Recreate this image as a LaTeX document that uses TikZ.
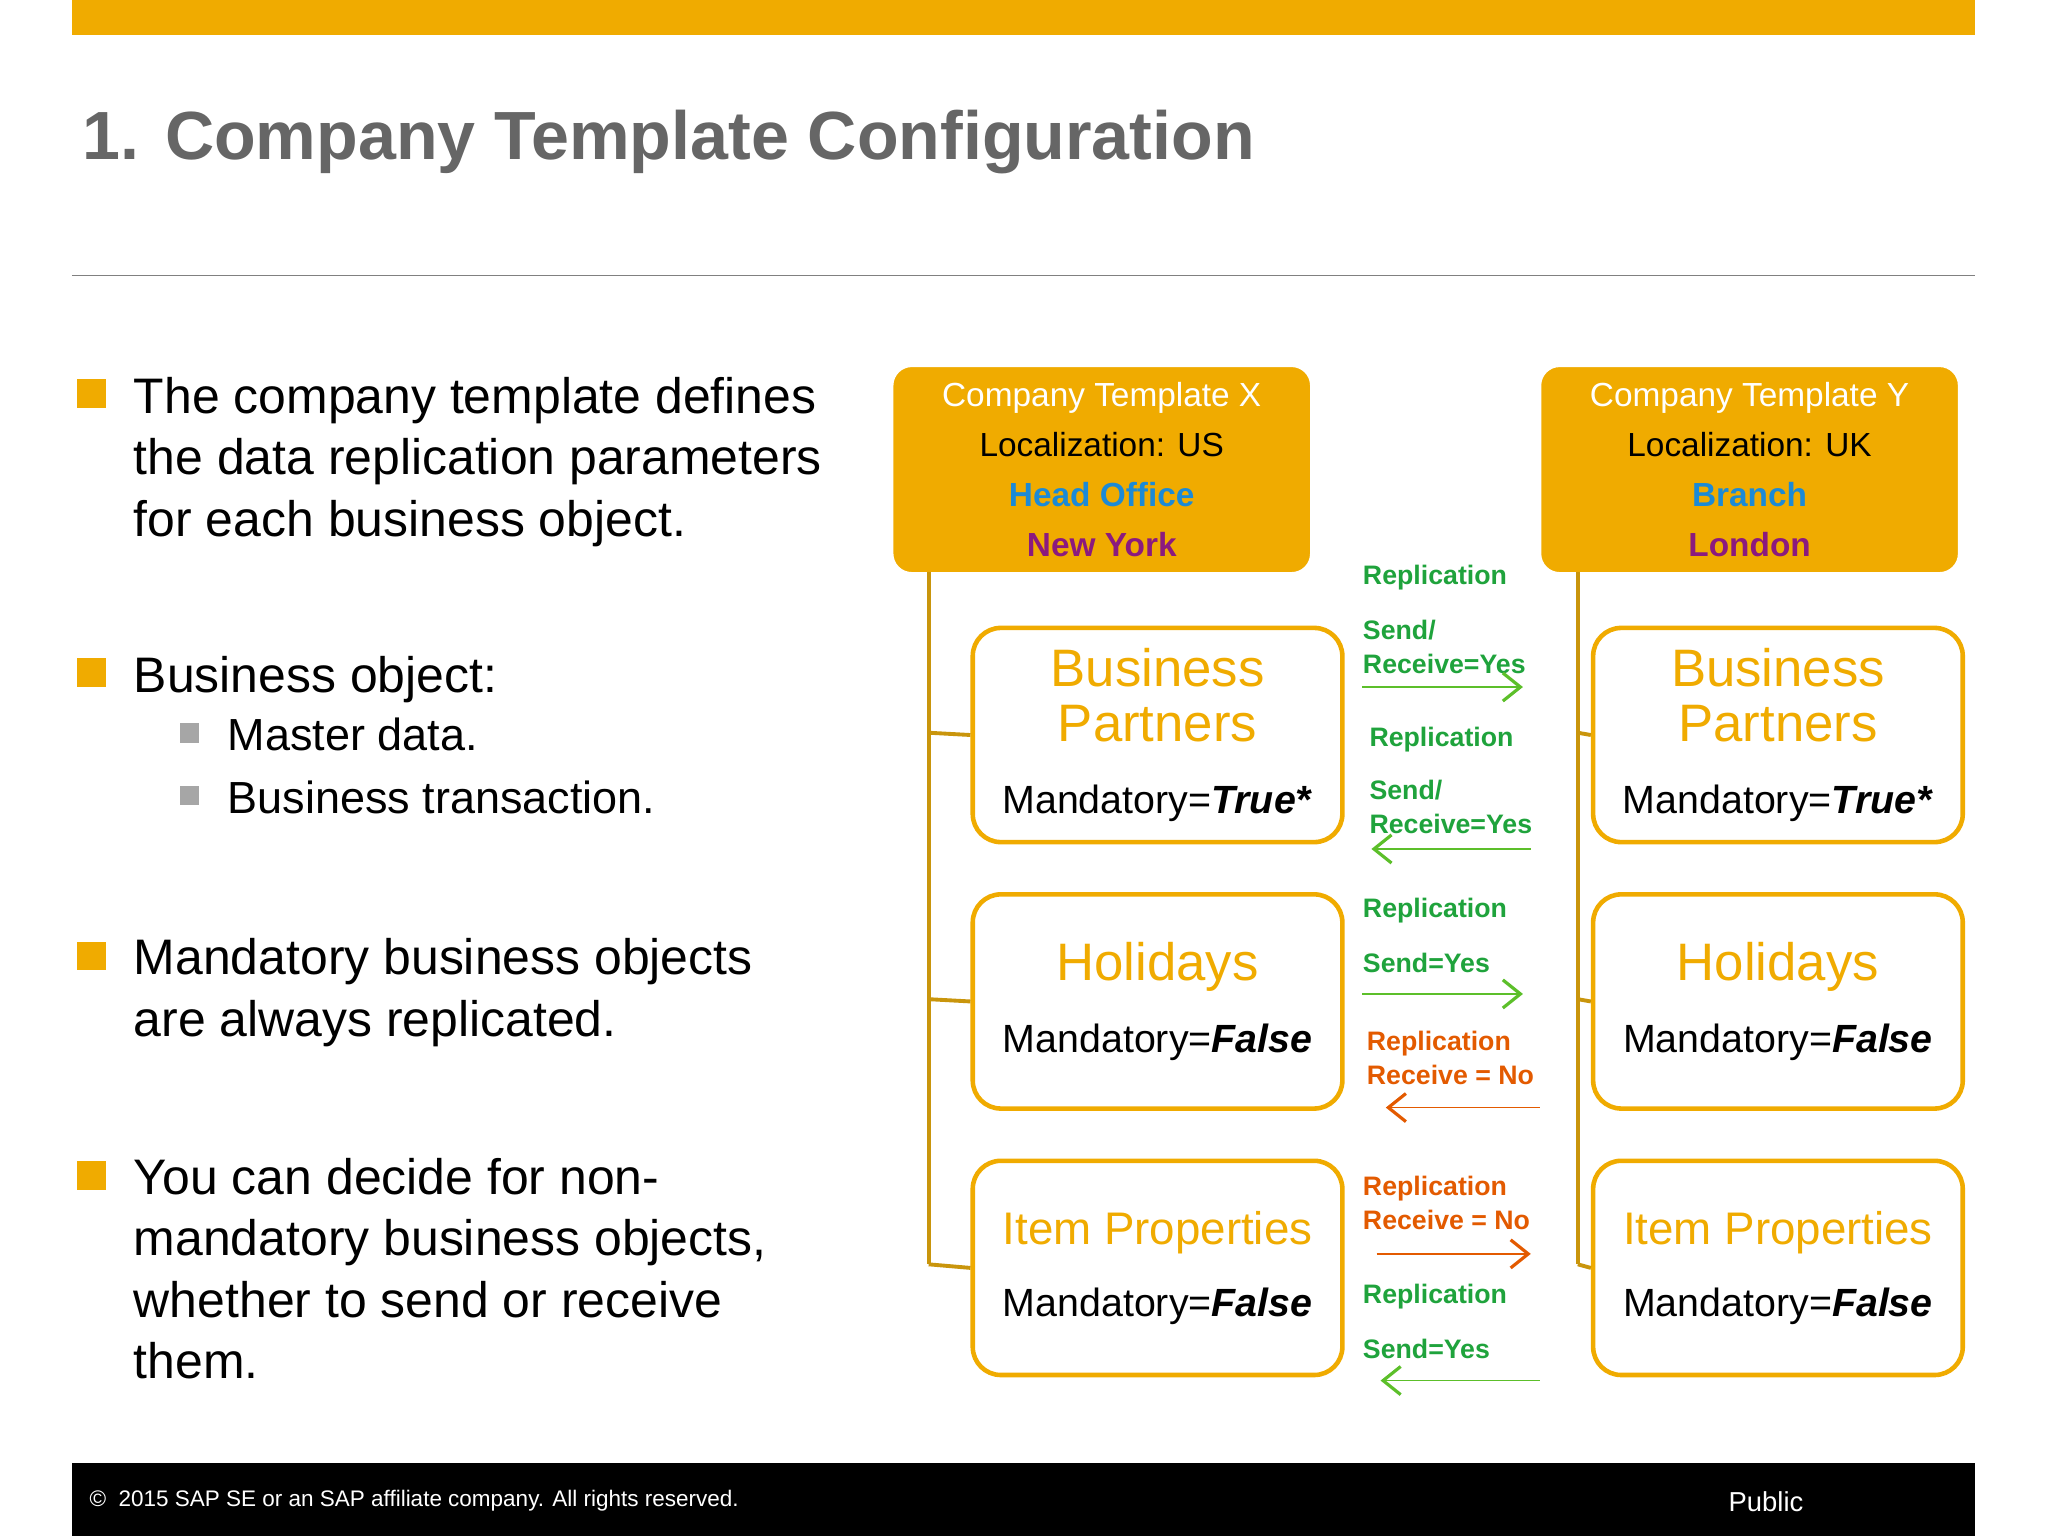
\documentclass[tikz,border=0pt]{standalone}
\usepackage{fontspec}
\setmainfont{Liberation Sans}
\usetikzlibrary{arrows.meta}
\definecolor{sapgold}{HTML}{F0AB00}
\definecolor{linegold}{HTML}{C9950C}
\definecolor{tgray}{HTML}{666666}
\definecolor{hblue}{HTML}{1C8AD6}
\definecolor{hpurple}{HTML}{8B1A7E}
\definecolor{tgreen}{HTML}{1FA33C}
\definecolor{agreen}{HTML}{5CBF2A}
\definecolor{torange}{HTML}{E35A00}
\newcommand{\myBP}{\textcolor{sapgold}{Business}\\\textcolor{sapgold}{Partners}\\[5pt]{\fontsize{11.2}{14}\selectfont Mandatory=\textbf{\textit{True*}}}}
\newcommand{\myHOL}{\textcolor{sapgold}{Holidays}\\[5pt]{\fontsize{11.2}{14}\selectfont Mandatory=\textbf{\textit{False}}}}
\newcommand{\myIP}{{\fontsize{13}{17}\selectfont\textcolor{sapgold}{Item Properties}}\\[5pt]{\fontsize{11.2}{14}\selectfont Mandatory=\textbf{\textit{False}}}}
\begin{document}
\begin{tikzpicture}[x=0.013061cm,y=-0.013061cm,
  hdr/.style={draw=white,line width=1.5pt,fill=sapgold,rounded corners=6pt,minimum width=323*0.013061cm,minimum height=161*0.013061cm,anchor=north west,inner sep=0pt,align=center,font=\fontsize{9.5}{14.2}\selectfont},
  obj/.style={draw=sapgold,line width=1.3pt,fill=white,rounded corners=8pt,minimum width=283*0.013061cm,minimum height=164*0.013061cm,anchor=north west,inner sep=0pt,align=center,font=\fontsize{15}{15.5}\selectfont},
  bul/.style={fill=sapgold,minimum size=22*0.013061cm,inner sep=0pt},
  sbul/.style={fill=gray!70,minimum size=15*0.013061cm,inner sep=0pt},
  btxt/.style={anchor=north west,align=left,font=\fontsize{14.2}{17.5}\selectfont,inner sep=0pt},
  lab/.style={anchor=west,inner sep=0pt,font=\bfseries\fontsize{7.6}{9.7}\selectfont,align=left},
  trunk/.style={draw=linegold,line width=1.1pt},
  arr/.style={line width=0.5pt,-{Straight Barb[length=5pt,width=8pt,line width=0.9pt]}}
]
\useasboundingbox (0,0) rectangle (1568,1176);
\fill[white] (0,0) rectangle (1568,1176);
\fill[sapgold] (55,0) rectangle (1512,27);
\node[anchor=west,inner sep=0pt,text=tgray,font=\bfseries\fontsize{19.4}{22}\selectfont] (title) at (63,109) {1. Company Template Configuration};
\draw[gray,line width=0.5pt] (55,211) -- (1512,211);
\fill[black] (55,1120) rectangle (1512,1176);
\node[anchor=west,text=white,inner sep=0pt,font=\fontsize{6.4}{7}\selectfont] (copy) at (68,1149) {©\ \ 2015 SAP SE or an SAP affiliate company. All rights reserved.};
\node[anchor=west,text=white,inner sep=0pt,font=\fontsize{7.8}{9}\selectfont] (pub) at (1323,1150) {Public};

% bullets
\node[bul] (b1) at (70,301) {};
\node[btxt] (t1) at (102,288) {The company template defines\\the data replication parameters\\for each business object.};
\node[bul] (b2) at (70,515) {};
\node[btxt] (t2) at (102,502) {Business object:};
\node[sbul] (s1) at (145,561) {};
\node[btxt,font=\fontsize{12.8}{16}\selectfont] (t3) at (174,549) {Master data.};
\node[sbul] (s2) at (145,609) {};
\node[btxt,font=\fontsize{12.8}{16}\selectfont] (t4) at (174,597) {Business transaction.};
\node[bul] (b3) at (70,732) {};
\node[btxt] (t5) at (102,718) {Mandatory business objects\\are always replicated.};
\node[bul] (b4) at (70,900) {};
\node[btxt] (t6) at (102,886) {You can decide for non-\\mandatory business objects,\\whether to send or receive\\them.};

% headers
\node[hdr] (hx) at (680,277) {\textcolor{white}{Company Template X}\\Localization: US\\\textcolor{hblue}{\bfseries Head Office}\\\textcolor{hpurple}{\bfseries New York}};
\node[hdr] (hy) at (1176,277) {\textcolor{white}{Company Template Y}\\Localization: UK\\\textcolor{hblue}{\bfseries Branch}\\\textcolor{hpurple}{\bfseries London}};

% trunks
\coordinate (tx0) at (711,438); \coordinate (tx1) at (711,968);
\coordinate (ty0) at (1208,438); \coordinate (ty1) at (1208,968);
\draw[trunk] (tx0) -- (tx1);
\draw[trunk] (ty0) -- (ty1);

\node[obj] (x1) at (743,479) {\myBP};
\node[obj] (x2) at (743,683) {\myHOL};
\node[obj] (x3) at (743,887) {\myIP};
\node[obj] (y1) at (1218,479) {\myBP};
\node[obj] (y2) at (1218,683) {\myHOL};
\node[obj] (y3) at (1218,887) {\myIP};
\foreach \n/\yy in {x1/561,x2/765,x3/968}{\draw[trunk] (711,\yy) -- (\n.west);}
\foreach \n/\yy in {y1/561,y2/765,y3/968}{\draw[trunk] (1208,\yy) -- (\n.west);}

% labels
\node[lab,text=tgreen] (l1) at (1043,442) {Replication};
\node[lab,text=tgreen] (l2) at (1043,495) {Send/\\Receive=Yes};
\coordinate (a1s) at (1043,526); \coordinate (a1e) at (1166,526);
\draw[arr,agreen] (a1s) -- (a1e);
\node[lab,text=tgreen] (l3) at (1048,566) {Replication};
\node[lab,text=tgreen] (l4) at (1048,618) {Send/\\Receive=Yes};
\coordinate (a2s) at (1172,650); \coordinate (a2e) at (1050,650);
\draw[arr,agreen] (a2s) -- (a2e);
\node[lab,text=tgreen] (l5) at (1043,697) {Replication};
\node[lab,text=tgreen] (l6) at (1043,737) {Send=Yes};
\coordinate (a3s) at (1043,761); \coordinate (a3e) at (1166,761);
\draw[arr,agreen] (a3s) -- (a3e);
\node[lab,text=torange] (l7) at (1046,810) {Replication\\Receive = No};
\coordinate (a4s) at (1179,848); \coordinate (a4e) at (1061,848);
\draw[arr,torange] (a4s) -- (a4e);
\node[lab,text=torange] (l8) at (1043,921) {Replication\\Receive = No};
\coordinate (a5s) at (1054,960); \coordinate (a5e) at (1172,960);
\draw[arr,torange] (a5s) -- (a5e);
\node[lab,text=tgreen] (l9) at (1043,993) {Replication};
\node[lab,text=tgreen] (l10) at (1043,1033) {Send=Yes};
\coordinate (a6s) at (1179,1057); \coordinate (a6e) at (1057,1057);
\draw[arr,agreen] (a6s) -- (a6e);
\end{tikzpicture}
\end{document}
